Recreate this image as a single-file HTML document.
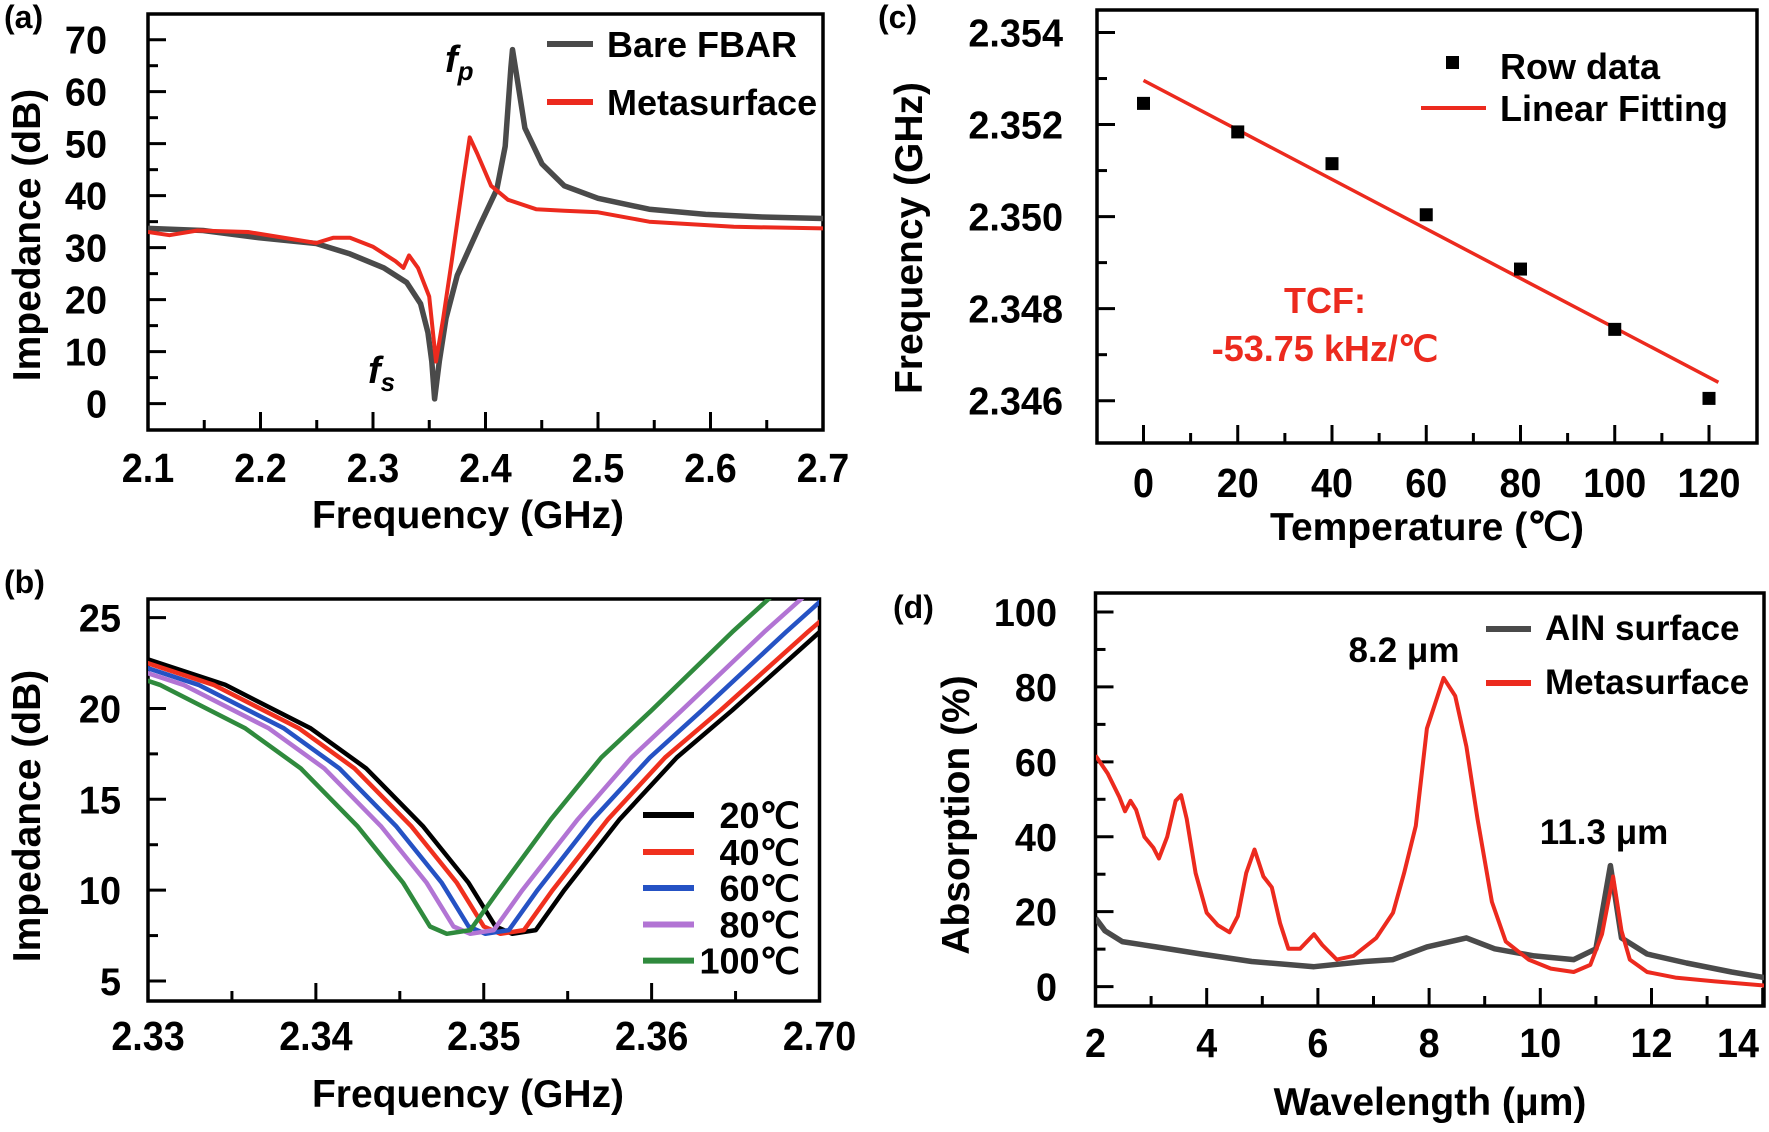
<!DOCTYPE html>
<html><head><meta charset="utf-8"><style>
html,body{margin:0;padding:0;background:#fff;}
svg{display:block;font-family:"Liberation Sans",Arial,sans-serif;font-weight:bold;}
</style></head><body>
<svg id="fig" width="1769" height="1132" viewBox="0 0 1769 1132" xmlns="http://www.w3.org/2000/svg">
<defs>
<clipPath id="clipA"><rect x="148" y="14" width="675" height="416"/></clipPath>
<clipPath id="clipB"><rect x="148" y="599" width="671" height="402"/></clipPath>
<clipPath id="clipC"><rect x="1097" y="10" width="660" height="433"/></clipPath>
<clipPath id="clipD"><rect x="1096" y="593" width="668" height="413"/></clipPath>
</defs>
</svg>
<script>
// ---------- Panel (a) data ----------
const aBareX=[2.100,2.149,2.199,2.2495,2.2796,2.3097,2.330,2.3423,2.3488,2.3523,2.3548,2.3589,2.3649,2.3749,2.395,2.410,2.4175,2.4226,2.424,2.4276,2.435,2.4502,2.470,2.500,2.5455,2.5957,2.646,2.700];
const aBareY=[33.7,33.3,31.9,30.8,28.8,26.1,23.3,19.2,13.7,8.1,0.9,8.1,16.4,24.7,34.3,41.2,49.5,64.7,68.1,63.3,53.0,46.1,41.9,39.5,37.4,36.4,35.9,35.6];
const aMetaX=[2.100,2.119,2.144,2.189,2.2495,2.2645,2.2796,2.2997,2.320,2.327,2.332,2.340,2.350,2.356,2.3624,2.370,2.380,2.386,2.3926,2.405,2.420,2.445,2.470,2.500,2.5455,2.6207,2.700];
const aMetaY=[33.0,32.4,33.3,33.0,30.9,31.9,31.9,30.2,27.4,26.1,28.5,26.1,20.6,8.1,16.4,27.4,42.6,51.2,48.1,41.9,39.2,37.4,37.1,36.8,35.0,34.0,33.7];
const aXTicks=[2.1,2.2,2.3,2.4,2.5,2.6,2.7];
const aXLabels=["2.1","2.2","2.3","2.4","2.5","2.6","2.7"];
const aYTicks=[0,10,20,30,40,50,60,70];
const aYLabels=["0","10","20","30","40","50","60","70"];
// ---------- Panel (b) data ----------
const bY=[23.5,22.7,21.3,18.9,16.7,13.5,10.4,8.0,7.6,7.8,10.0,13.9,17.3,19.9,24.2,29.0];
const b20X=[2.3260,2.3300,2.3346,2.3397,2.3430,2.3464,2.3491,2.3507,2.3517,2.3531,2.3548,2.3581,2.3615,2.3648,2.3700,2.3760];
const b40X=[2.3253,2.3293,2.3339,2.3390,2.3423,2.3457,2.3484,2.3500,2.3510,2.3524,2.3541,2.3574,2.3608,2.3641,2.3693,2.3753];
const b60X=[2.3244,2.3284,2.3330,2.3381,2.3414,2.3448,2.3475,2.3491,2.3501,2.3515,2.3532,2.3565,2.3599,2.3630,2.3680,2.3738];
const b80X=[2.3235,2.3275,2.3321,2.3372,2.3405,2.3439,2.3466,2.3482,2.3492,2.3506,2.3523,2.3556,2.3588,2.3618,2.3667,2.3725];
const b100X=[2.3221,2.3261,2.3307,2.3358,2.3391,2.3425,2.3452,2.3468,2.3478,2.3492,2.3509,2.3540,2.3570,2.3600,2.3648,2.3705];
const bLegend=["20℃","40℃","60℃","80℃","100℃"];
const bXTicks=[2.33,2.34,2.35,2.36,2.37];
const bXLabels=["2.33","2.34","2.35","2.36","2.70"];
const bYTicks=[5,10,15,20,25];
const bYLabels=["5","10","15","20","25"];
// ---------- Panel (c) data ----------
const cTemp=[0,20,40,60,80,100,120];
const cFreq=[2.35246,2.35184,2.35115,2.35004,2.34886,2.34755,2.34605];
const cFitT=[0,122];
const cFitF=[2.35296,2.34640];
const cXTicks=[0,20,40,60,80,100,120];
const cXLabels=["0","20","40","60","80","100","120"];
const cYTicks=[2.346,2.348,2.350,2.352,2.354];
const cYLabels=["2.346","2.348","2.350","2.352","2.354"];
// ---------- Panel (d) data ----------
const dMetaX=[2.0,2.22,2.43,2.53,2.63,2.73,2.88,3.04,3.14,3.29,3.44,3.54,3.64,3.80,4.0,4.2,4.41,4.56,4.71,4.86,5.02,5.17,5.32,5.47,5.68,5.93,6.08,6.34,6.64,7.05,7.35,7.55,7.76,7.96,8.26,8.47,8.67,8.87,9.13,9.38,9.79,10.19,10.6,10.9,11.11,11.31,11.46,11.61,11.92,12.43,13.14,14.03];
const dMetaY=[61.7,56.9,50.6,46.8,49.6,47.2,40.0,37.1,34.2,40.0,49.6,51.1,44.8,30.3,19.7,16.4,14.5,18.8,30.3,36.6,29.4,26.5,16.9,10.1,10.1,14.0,11.1,7.2,8.2,13.0,19.7,30.3,42.9,68.9,82.4,77.6,64.1,44.8,22.6,12.0,7.2,4.8,3.9,5.8,14.0,29.4,14.9,7.2,3.9,2.4,1.4,0.3];
const dAlnX=[2.0,2.17,2.48,3.09,3.90,4.81,5.93,6.84,7.35,7.96,8.67,9.18,9.89,10.6,11.0,11.26,11.46,11.92,12.63,13.44,14.03];
const dAlnY=[18.3,14.9,12.0,10.6,8.7,6.7,5.3,6.7,7.2,10.6,13.0,10.1,8.2,7.2,10.1,32.3,13.0,8.7,6.3,3.9,2.4];
const dXTicks=[2,4,6,8,10,12,14];
const dXLabels=["2","4","6","8","10","12","14"];
const dYTicks=[0,20,40,60,80,100];
const dYLabels=["0","20","40","60","80","100"];

const NS="http://www.w3.org/2000/svg";
const svg=document.getElementById('fig');
function lin(d0,d1,r0,r1){return v=>r0+(v-d0)*(r1-r0)/(d1-d0);}
function mk(tag,attrs,name,parent){
  const el=document.createElementNS(NS,tag);
  for(const k in attrs) el.setAttribute(k,attrs[k]);
  
  
  (parent||svg).appendChild(el);
  return el;
}
function txt(x,y,s,size,anchor,name,fill,rot,sx){
  const tr=rot?`translate(${x},${y}) rotate(-90) scale(${sx||1},1)`:`translate(${x},${y}) scale(${sx||1},1)`;
  const el=mk('text',{x:0,y:0,transform:tr,'font-size':size,'text-anchor':anchor||'middle',fill:fill||'#000'},name);
  el.textContent=s;
  return el;
}
function line(x1,y1,x2,y2,name,w,col){return mk('line',{x1,y1,x2,y2,stroke:col||'#000','stroke-width':w||3},name);}
function path(xs,ys,sx,sy,col,w,clip,name){
  let d='';
  for(let i=0;i<xs.length;i++) d+=(i?'L':'M')+sx(xs[i]).toFixed(1)+','+sy(ys[i]).toFixed(1);
  return mk('path',{d,fill:'none',stroke:col,'stroke-width':w,'stroke-linejoin':'round','clip-path':'url(#'+clip+')'},name);
}
function axes(p){
  mk('rect',{x:p.box[0],y:p.box[1],width:p.box[2]-p.box[0],height:p.box[3]-p.box[1],fill:'none',stroke:'#000','stroke-width':3.5},p.id+'-plot-frame');
  p.xt.forEach((v,i)=>{const x=p.sx(v);line(x,p.box[3],x,p.box[3]-18,p.id+'-x-tick');
    const lx=Math.min(x,p.xmaxLabel||9999);
    txt(lx,p.xlabY,p.xl[i],41,'middle',p.id+'-x-tick-label',null,false,0.92);});
  p.xm.forEach(v=>{const x=p.sx(v);line(x,p.box[3],x,p.box[3]-10,p.id+'-x-minor-tick');});
  p.yt.forEach((v,i)=>{const y=p.sy(v);line(p.box[0],y,p.box[0]+18,y,p.id+'-y-tick');
    txt(p.ylabX,y+14,p.yl[i],39,'end',p.id+'-y-tick-label',null,false,0.97);});
  p.ym.forEach(v=>{const y=p.sy(v);line(p.box[0],y,p.box[0]+10,y,p.id+'-y-minor-tick');});
  txt(p.xtitle[0],p.xtitle[1],p.xtitle[2],39,'middle',p.id+'-x-axis-title');
  txt(p.ytitle[0],p.ytitle[1],p.ytitle[2],39,'middle',p.id+'-y-axis-title',null,true);
  txt(p.tag[0],p.tag[1],p.tag[2],32,'start',p.id+'-panel-label');
}
// Panel A
const aSx=lin(2.1,2.7,148,823), aSy=lin(0,70,403.6,39.7);
axes({id:'a',box:[148,14,823,430],sx:aSx,sy:aSy,xt:aXTicks,xl:aXLabels,xm:[2.15,2.25,2.35,2.45,2.55,2.65],
  yt:aYTicks,yl:aYLabels,ym:[5,15,25,35,45,55,65],xlabY:482,ylabX:107,
  xtitle:[468,528,'Frequency (GHz)'],ytitle:[40,235,'Impedance (dB)'],tag:[4,28,'(a)']});
path(aBareX,aBareY,aSx,aSy,'#4a4a4a',5.5,'clipA','bare-fbar-line');
path(aMetaX,aMetaY,aSx,aSy,'#ec2a1e',4,'clipA','metasurface-line');
line(547,44,593,44,'legend-bare-fbar-swatch',6,'#4a4a4a');
txt(607,57,'Bare FBAR',36,'start','legend-bare-fbar');
line(547,102,593,102,'legend-metasurface-swatch',6,'#ec2a1e');
txt(607,115,'Metasurface',36,'start','legend-metasurface');
let t=txt(445,72,'',38,'start','fp-annotation');
t.innerHTML='<tspan font-style="italic">f</tspan><tspan font-style="italic" font-size="26" dy="8">p</tspan>';
t=txt(368,383,'',38,'start','fs-annotation');
t.innerHTML='<tspan font-style="italic">f</tspan><tspan font-style="italic" font-size="26" dy="8">s</tspan>';
// Panel B
const bSx=lin(2.33,2.37,148,819.5), bSy=lin(5,25,981,617.6);
axes({id:'b',box:[148,599,819.5,1001],sx:bSx,sy:bSy,xt:bXTicks,xl:bXLabels,xm:[2.335,2.345,2.355,2.365],
  yt:bYTicks,yl:bYLabels,ym:[7.5,12.5,17.5,22.5],xlabY:1050,ylabX:121,
  xtitle:[468,1107,'Frequency (GHz)'],ytitle:[40,816,'Impedance (dB)'],tag:[4,593,'(b)']});
const bCols=['#000000','#f0301e','#2552c4','#b274d4','#2f8a3d'];
[b20X,b40X,b60X,b80X,b100X].forEach((xs,i)=>{
  path(xs,bY,bSx,bSy,bCols[i],4.5,'clipB','curve-'+bLegend[i]);
  const ly=[815,852,888,924.5,960.6][i];
  line(643,ly,694,ly,'legend-swatch-'+i,6,bCols[i]);
  txt(800,ly+13,bLegend[i],36,'end','legend-label-'+i);
});
// Panel C
const cSx=lin(0,120,1143.5,1709), cSy=lin(2.346,2.354,400.7,32.5);
axes({id:'c',box:[1097,10,1757,443],sx:cSx,sy:cSy,xt:cXTicks,xl:cXLabels,xm:[10,30,50,70,90,110],
  yt:cYTicks,yl:cYLabels,ym:[2.347,2.349,2.351,2.353],xlabY:497,ylabX:1063,
  xtitle:[1427,540,'Temperature (℃)'],ytitle:[922,238,'Frequency (GHz)'],tag:[878,28,'(c)']});
path(cFitT,cFitF,cSx,cSy,'#ec2a1e',3.5,'clipC','linear-fit-line');
cTemp.forEach((v,i)=>{mk('rect',{x:cSx(v)-6.5,y:cSy(cFreq[i])-6.5,width:13,height:13,fill:'#000'},'row-data-point');});
mk('rect',{x:1446,y:56,width:13,height:13,fill:'#000'},'legend-row-data-marker');
txt(1500,79,'Row data',36,'start','legend-row-data');
line(1421,108,1486,108,'legend-linear-fit-swatch',4,'#ec2a1e');
txt(1500,121,'Linear Fitting',36,'start','legend-linear-fitting');
txt(1325,313,'TCF:',36,'middle','tcf-label','#ec2a1e');
txt(1325,361,'-53.75 kHz/℃',36,'middle','tcf-value','#ec2a1e');
// Panel D
const dSx=lin(2,14,1095.5,1762.7), dSy=lin(0,100,986.6,612);
axes({id:'d',box:[1095.5,593,1764,1006],sx:dSx,sy:dSy,xt:dXTicks,xl:dXLabels,xm:[3,5,7,9,11,13],
  yt:dYTicks,yl:dYLabels,ym:[10,30,50,70,90],xlabY:1057,ylabX:1057,xmaxLabel:1738,
  xtitle:[1430,1115,'Wavelength (μm)'],ytitle:[969,815,'Absorption (%)'],tag:[893,618,'(d)']});
path(dAlnX,dAlnY,dSx,dSy,'#4a4a4a',5.5,'clipD','aln-surface-line');
path(dMetaX,dMetaY,dSx,dSy,'#ec2a1e',4,'clipD','metasurface-absorption-line');
line(1486,629,1531,629,'legend-aln-swatch',6,'#4a4a4a');
txt(1545,640,'AlN surface',35,'start','legend-aln-surface');
line(1486,683,1531,683,'legend-meta-swatch',6,'#ec2a1e');
txt(1545,694,'Metasurface',35,'start','legend-metasurface-d');
txt(1404,662,'8.2 μm',35,'middle','peak-label-8-2');
txt(1604,844,'11.3 μm',35,'middle','peak-label-11-3');
</script>
</body></html>
